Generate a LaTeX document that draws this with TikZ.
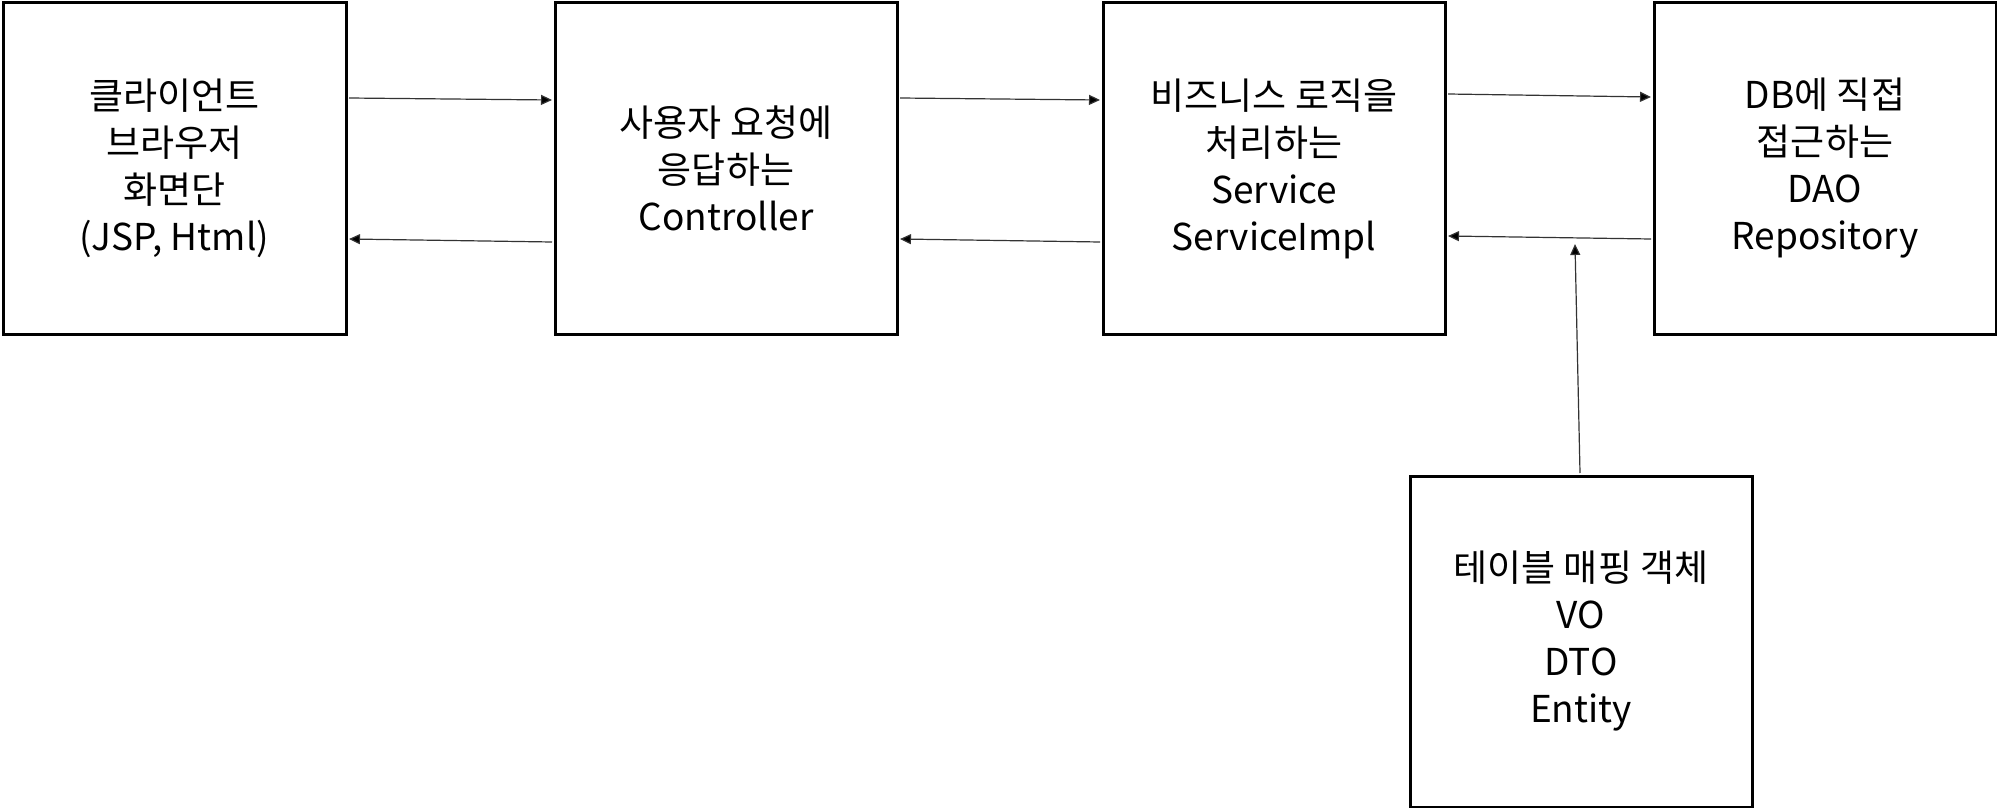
\documentclass[tikz,border=0pt]{standalone}
\usepackage{fontspec}
\setmainfont{Noto Sans CJK KR}
\usetikzlibrary{arrows.meta,calc}
\begin{document}
\begin{tikzpicture}[x=0.5pt,y=-0.5pt,
  box/.style={draw,line width=1.5pt,anchor=north west,minimum width=171pt,minimum height=165.5pt,inner sep=0pt,align=center,font=\fontsize{18.5pt}{23.5pt}\selectfont},
  conn/.style={line width=0.6pt,draw=black!80,-{Triangle[length=5.5pt,width=5pt,fill=black]}}]
\useasboundingbox (0,0) rectangle (1997,808);
\node[box,minimum width=171.5pt] (b1) at (1.5,1.5) {클라이언트\\브라우저\\화면단\\(JSP, Html)};
\node[box] (b2) at (553.5,1.5) {사용자 요청에\\응답하는\\Controller};
\node[box] (b3) at (1101.5,1.5) {비즈니스 로직을\\처리하는\\Service\\ServiceImpl};
\node[box] (b4) at (1652.5,1.5) {DB에 직접\\접근하는\\DAO\\Repository};
\node[box] (b5) at (1408.5,474.5) {테이블 매핑 객체\\VO\\DTO\\Entity};
\coordinate (t5) at (1575,244);
\draw[conn] ($(b1.north east)+(1.5,96.5)$) -- ($(b2.north west)+(-1.5,98.5)$);
\draw[conn] ($(b2.north west)+(-1.5,240.5)$) -- ($(b1.north east)+(1.5,237.5)$);
\draw[conn] ($(b2.north east)+(1.5,96.5)$) -- ($(b3.north west)+(-1.5,98.5)$);
\draw[conn] ($(b3.north west)+(-1.5,240.5)$) -- ($(b2.north east)+(1.5,237.5)$);
\draw[conn] ($(b3.north east)+(1.5,92.5)$) -- ($(b4.north west)+(-1.5,95.5)$);
\draw[conn] ($(b4.north west)+(-1.5,237.5)$) -- ($(b3.north east)+(1.5,234.5)$);
\draw[conn] ($(b5.north west)+(171.5,-1.5)$) -- (t5);
\end{tikzpicture}
\end{document}
